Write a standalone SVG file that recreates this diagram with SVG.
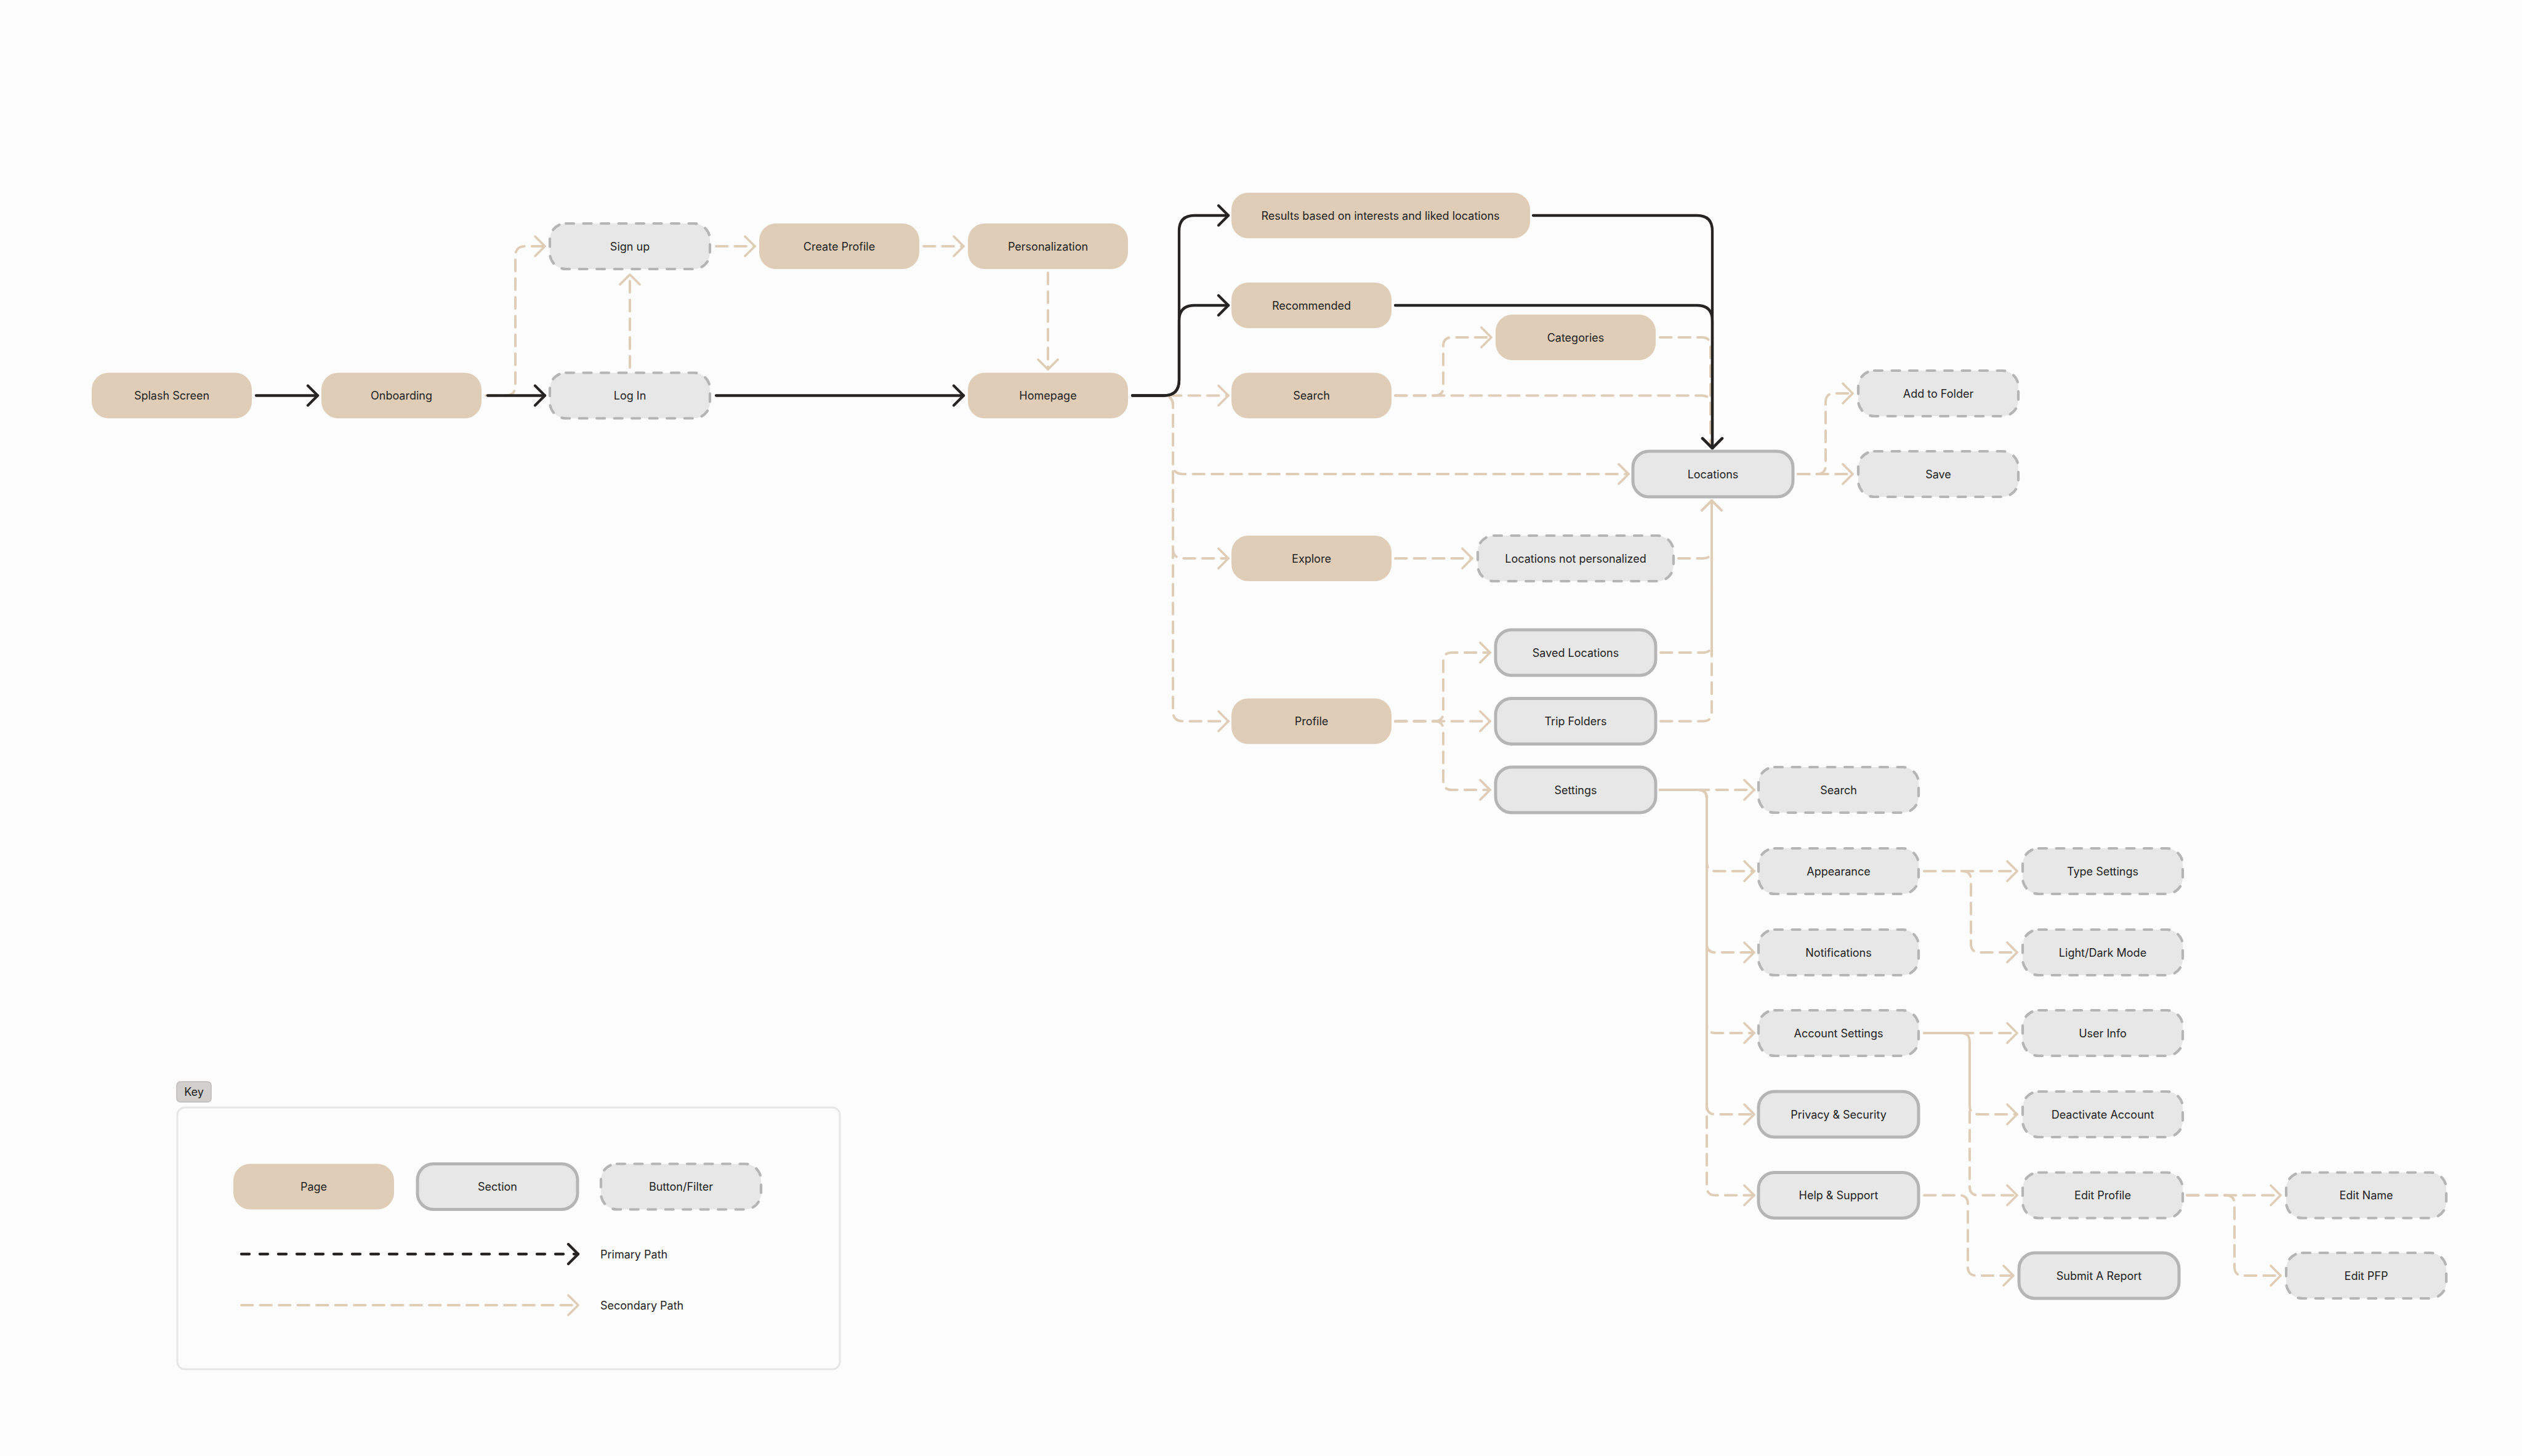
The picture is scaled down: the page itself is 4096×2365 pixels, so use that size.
<svg xmlns="http://www.w3.org/2000/svg" width="4096" height="2365" viewBox="0 0 4096 2365">
<style>
  .bg { fill:#fcfcfc; }
  .page { fill:#dfcdb7; }
  .sect { fill:#e7e7e7; stroke:#b5b5b5; stroke-width:5; }
  .btn { fill:#e7e7e7; stroke:#b5b5b5; stroke-width:4.2; stroke-dasharray:13 15.5; stroke-linecap:round; }
  .lbl { font-family:Inter, "Liberation Sans", sans-serif; font-size:18px; fill:#222222; text-anchor:middle; }
  .klbl { font-family:Inter, "Liberation Sans", sans-serif; font-size:18px; fill:#222222; }
  .pri { fill:none; stroke:#262422; stroke-width:4.3; stroke-linecap:round; stroke-linejoin:round; }
  .sec { fill:none; stroke:#dfcdb7; stroke-width:4; stroke-dasharray:18.5 12; stroke-linecap:round; }
</style>
<defs>
  <marker id="ap" viewBox="-22 -22 44 44" refX="0" refY="0" markerWidth="44" markerHeight="44" orient="auto" markerUnits="userSpaceOnUse">
    <path d="M-16,-16 L0,0 L-16,16" fill="none" stroke="#262422" stroke-width="4.3" stroke-linecap="round" stroke-linejoin="round"/>
  </marker>
  <marker id="as" viewBox="-22 -22 44 44" refX="0" refY="0" markerWidth="44" markerHeight="44" orient="auto" markerUnits="userSpaceOnUse">
    <path d="M-16,-16 L0,0 L-16,16" fill="none" stroke="#dfcdb7" stroke-width="3.8" stroke-linecap="round" stroke-linejoin="round"/>
  </marker>
</defs>
<rect class="bg" x="0" y="0" width="4096" height="2365"/>

<g id="connectors">
  <!-- secondary paths -->
  <path class="sec" marker-end="url(#as)" d="M789,642.5 H821 Q837,642.5 837,626.5 V416 Q837,400 853,400 H885"/>
  <path class="sec" marker-end="url(#as)" d="M1023,597 V446"/>
  <path class="sec" marker-end="url(#as)" d="M1163,400 H1226"/>
  <path class="sec" marker-end="url(#as)" d="M1500,400 H1565"/>
  <path class="sec" marker-end="url(#as)" d="M1702,443 V600"/>
  <path class="sec" marker-end="url(#as)" d="M1839,642.5 H1995"/>
  <path class="sec" marker-end="url(#as)" d="M1839,642.5 H1889 Q1905,642.5 1905,658.5 V754 Q1905,770 1921,770 H2645"/>
  <path class="sec" marker-end="url(#as)" d="M1839,642.5 H1889 Q1905,642.5 1905,658.5 V891 Q1905,907 1921,907 H1995"/>
  <path class="sec" marker-end="url(#as)" d="M1839,642.5 H1889 Q1905,642.5 1905,658.5 V1155.5 Q1905,1171.5 1921,1171.5 H1995"/>
  <path class="sec" marker-end="url(#as)" d="M2266,642.5 H2330 Q2344,642.5 2344,628.5 V562 Q2344,548 2358,548 H2422"/>
  <path class="sec" d="M2266,642.5 H2764 Q2778,642.5 2778,656.5 V725"/>
  <path class="sec" d="M2696,548 H2764 Q2778,548 2778,562 V725"/>
  <path class="sec" marker-end="url(#as)" d="M2920,770 H3009"/>
  <path class="sec" marker-end="url(#as)" d="M2920,770 H2951 Q2965,770 2965,756 V653 Q2965,639 2979,639 H3009"/>
  <path class="sec" marker-end="url(#as)" d="M2266,907 H2391"/>
  <path class="sec" marker-end="url(#as)" d="M2726,907 H2766 Q2780,907 2780,893 V813"/>
  <path class="sec" marker-end="url(#as)" d="M2697,1060 H2766 Q2780,1060 2780,1046 V813"/>
  <path class="sec" marker-end="url(#as)" d="M2697,1171.5 H2766 Q2780,1171.5 2780,1157.5 V813"/>
  <path class="sec" marker-end="url(#as)" d="M2266,1171.5 H2420"/>
  <path class="sec" marker-end="url(#as)" d="M2266,1171.5 H2330 Q2344,1171.5 2344,1157.5 V1074 Q2344,1060 2358,1060 H2420"/>
  <path class="sec" marker-end="url(#as)" d="M2266,1171.5 H2330 Q2344,1171.5 2344,1185.5 V1269 Q2344,1283 2358,1283 H2420"/>
  <path class="sec" marker-end="url(#as)" d="M2696,1283 H2849"/>
  <path class="sec" marker-end="url(#as)" style="stroke-dashoffset:5" d="M2696,1283 H2758 Q2772,1283 2772,1297 V1401 Q2772,1415 2786,1415 H2849"/>
  <path class="sec" marker-end="url(#as)" style="stroke-dashoffset:12" d="M2696,1283 H2758 Q2772,1283 2772,1297 V1533 Q2772,1547 2786,1547 H2849"/>
  <path class="sec" marker-end="url(#as)" style="stroke-dashoffset:20" d="M2696,1283 H2758 Q2772,1283 2772,1297 V1664 Q2772,1678 2786,1678 H2849"/>
  <path class="sec" marker-end="url(#as)" style="stroke-dashoffset:26" d="M2696,1283 H2758 Q2772,1283 2772,1297 V1796 Q2772,1810 2786,1810 H2849"/>
  <path class="sec" marker-end="url(#as)" style="stroke-dashoffset:9" d="M2696,1283 H2758 Q2772,1283 2772,1297 V1927.5 Q2772,1941.5 2786,1941.5 H2849"/>
  <path class="sec" marker-end="url(#as)" d="M3125,1415 H3276"/>
  <path class="sec" marker-end="url(#as)" d="M3125,1415 H3187 Q3201,1415 3201,1429 V1533 Q3201,1547 3215,1547 H3276"/>
  <path class="sec" marker-end="url(#as)" d="M3125,1678 H3276"/>
  <path class="sec" marker-end="url(#as)" style="stroke-dashoffset:7" d="M3125,1678 H3185 Q3199,1678 3199,1692 V1796 Q3199,1810 3213,1810 H3276"/>
  <path class="sec" marker-end="url(#as)" style="stroke-dashoffset:18" d="M3125,1678 H3185 Q3199,1678 3199,1692 V1927.5 Q3199,1941.5 3213,1941.5 H3276"/>
  <path class="sec" marker-end="url(#as)" d="M3125,1941.5 H3182 Q3196,1941.5 3196,1955.5 V2058 Q3196,2072 3210,2072 H3270"/>
  <path class="sec" marker-end="url(#as)" d="M3552,1941.5 H3704"/>
  <path class="sec" marker-end="url(#as)" d="M3552,1941.5 H3615 Q3629,1941.5 3629,1955.5 V2058 Q3629,2072 3643,2072 H3704"/>
  <!-- primary paths -->
  <path class="pri" marker-end="url(#ap)" d="M416,642.5 H516"/>
  <path class="pri" marker-end="url(#ap)" d="M792,642.5 H885"/>
  <path class="pri" marker-end="url(#ap)" d="M1163,642.5 H1565"/>
  <path class="pri" marker-end="url(#ap)" d="M1839,642.5 H1890 Q1915,642.5 1915,617.5 V521 Q1915,496 1940,496 H1995"/>
  <path class="pri" marker-end="url(#ap)" d="M1839,642.5 H1890 Q1915,642.5 1915,617.5 V375 Q1915,350 1940,350 H1995"/>
  <path class="pri" marker-end="url(#ap)" d="M2490,350 H2756 Q2781,350 2781,375 V728"/>
  <path class="pri" marker-end="url(#ap)" d="M2266,496 H2756 Q2781,496 2781,521 V728"/>
</g>

<g id="splash"><rect class="page" x="149" y="605.5" width="260" height="74" rx="27"/><text class="lbl" x="279" y="649">Splash Screen</text></g>
<g id="onboarding"><rect class="page" x="522" y="605.5" width="260" height="74" rx="27"/><text class="lbl" x="652" y="649">Onboarding</text></g>
<g id="signup"><rect class="btn" x="893" y="363" width="260" height="74" rx="26"/><text class="lbl" x="1023" y="406.5">Sign up</text></g>
<g id="login"><rect class="btn" x="893" y="605.5" width="260" height="74" rx="26"/><text class="lbl" x="1023" y="649">Log In</text></g>
<g id="createprofile"><rect class="page" x="1233" y="363" width="260" height="74" rx="27"/><text class="lbl" x="1363" y="406.5">Create Profile</text></g>
<g id="personalization"><rect class="page" x="1572" y="363" width="260" height="74" rx="27"/><text class="lbl" x="1702" y="406.5">Personalization</text></g>
<g id="homepage"><rect class="page" x="1572" y="605.5" width="260" height="74" rx="27"/><text class="lbl" x="1702" y="649">Homepage</text></g>
<g id="results"><rect class="page" x="2000" y="313" width="485" height="74" rx="27"/><text class="lbl" x="2242" y="356.5">Results based on interests and liked locations</text></g>
<g id="recommended"><rect class="page" x="2000" y="459" width="260" height="74" rx="27"/><text class="lbl" x="2130" y="502.5">Recommended</text></g>
<g id="categories"><rect class="page" x="2429" y="511" width="260" height="74" rx="27"/><text class="lbl" x="2559" y="554.5">Categories</text></g>
<g id="search"><rect class="page" x="2000" y="605.5" width="260" height="74" rx="27"/><text class="lbl" x="2130" y="649">Search</text></g>
<g id="locations"><rect class="sect" x="2652" y="733" width="260" height="74" rx="26"/><text class="lbl" x="2782" y="776.5">Locations</text></g>
<g id="addtofolder"><rect class="btn" x="3018" y="602" width="260" height="74" rx="26"/><text class="lbl" x="3148" y="645.5">Add to Folder</text></g>
<g id="save"><rect class="btn" x="3018" y="733" width="260" height="74" rx="26"/><text class="lbl" x="3148" y="776.5">Save</text></g>
<g id="explore"><rect class="page" x="2000" y="870" width="260" height="74" rx="27"/><text class="lbl" x="2130" y="913.5">Explore</text></g>
<g id="notpersonalized"><rect class="btn" x="2400" y="870" width="318" height="74" rx="26"/><text class="lbl" x="2559" y="913.5">Locations not personalized</text></g>
<g id="savedlocations"><rect class="sect" x="2429" y="1023" width="260" height="74" rx="26"/><text class="lbl" x="2559" y="1066.5">Saved Locations</text></g>
<g id="tripfolders"><rect class="sect" x="2429" y="1134.5" width="260" height="74" rx="26"/><text class="lbl" x="2559" y="1178">Trip Folders</text></g>
<g id="profile"><rect class="page" x="2000" y="1134.5" width="260" height="74" rx="27"/><text class="lbl" x="2130" y="1178">Profile</text></g>
<g id="settings"><rect class="sect" x="2429" y="1246" width="260" height="74" rx="26"/><text class="lbl" x="2559" y="1289.5">Settings</text></g>
<g id="settingssearch"><rect class="btn" x="2856" y="1246" width="260" height="74" rx="26"/><text class="lbl" x="2986" y="1289.5">Search</text></g>
<g id="appearance"><rect class="btn" x="2856" y="1378" width="260" height="74" rx="26"/><text class="lbl" x="2986" y="1421.5">Appearance</text></g>
<g id="notifications"><rect class="btn" x="2856" y="1510" width="260" height="74" rx="26"/><text class="lbl" x="2986" y="1553.5">Notifications</text></g>
<g id="accountsettings"><rect class="btn" x="2856" y="1641" width="260" height="74" rx="26"/><text class="lbl" x="2986" y="1684.5">Account Settings</text></g>
<g id="privacy"><rect class="sect" x="2856" y="1773" width="260" height="74" rx="26"/><text class="lbl" x="2986" y="1816.5">Privacy &amp; Security</text></g>
<g id="help"><rect class="sect" x="2856" y="1904.5" width="260" height="74" rx="26"/><text class="lbl" x="2986" y="1948">Help &amp; Support</text></g>
<g id="typesettings"><rect class="btn" x="3285" y="1378" width="260" height="74" rx="26"/><text class="lbl" x="3415" y="1421.5">Type Settings</text></g>
<g id="lightdark"><rect class="btn" x="3285" y="1510" width="260" height="74" rx="26"/><text class="lbl" x="3415" y="1553.5">Light/Dark Mode</text></g>
<g id="userinfo"><rect class="btn" x="3285" y="1641" width="260" height="74" rx="26"/><text class="lbl" x="3415" y="1684.5">User Info</text></g>
<g id="deactivate"><rect class="btn" x="3285" y="1773" width="260" height="74" rx="26"/><text class="lbl" x="3415" y="1816.5">Deactivate Account</text></g>
<g id="editprofile"><rect class="btn" x="3285" y="1904.5" width="260" height="74" rx="26"/><text class="lbl" x="3415" y="1948">Edit Profile</text></g>
<g id="submitreport"><rect class="sect" x="3279" y="2035" width="260" height="74" rx="26"/><text class="lbl" x="3409" y="2078.5">Submit A Report</text></g>
<g id="editname"><rect class="btn" x="3713" y="1904.5" width="260" height="74" rx="26"/><text class="lbl" x="3843" y="1948">Edit Name</text></g>
<g id="editpfp"><rect class="btn" x="3713" y="2035" width="260" height="74" rx="26"/><text class="lbl" x="3843" y="2078.5">Edit PFP</text></g>

<g id="key">
  <rect x="287" y="1757" width="56" height="33" rx="6" fill="#d2cecb" stroke="#bcb9b6" stroke-width="1.5"/>
  <text class="lbl" x="315" y="1780">Key</text>
  <rect x="288" y="1799" width="1076" height="425" rx="12" fill="#fcfcfc" stroke="#e6e6e6" stroke-width="3"/>
  <rect class="page" x="379" y="1890.5" width="261" height="74" rx="27"/>
  <text class="lbl" x="509.5" y="1934">Page</text>
  <rect class="sect" x="678" y="1890.5" width="260" height="74" rx="26"/>
  <text class="lbl" x="808" y="1934">Section</text>
  <rect class="btn" x="976" y="1890.5" width="260" height="74" rx="26"/>
  <text class="lbl" x="1106" y="1934">Button/Filter</text>
  <path class="pri" stroke-dasharray="13 17" marker-end="url(#ap)" d="M392,2037 H939"/>
  <text class="klbl" x="975" y="2043.5">Primary Path</text>
  <path class="sec" marker-end="url(#as)" d="M392,2120 H939"/>
  <text class="klbl" x="975" y="2126.5">Secondary Path</text>
</g>
</svg>
